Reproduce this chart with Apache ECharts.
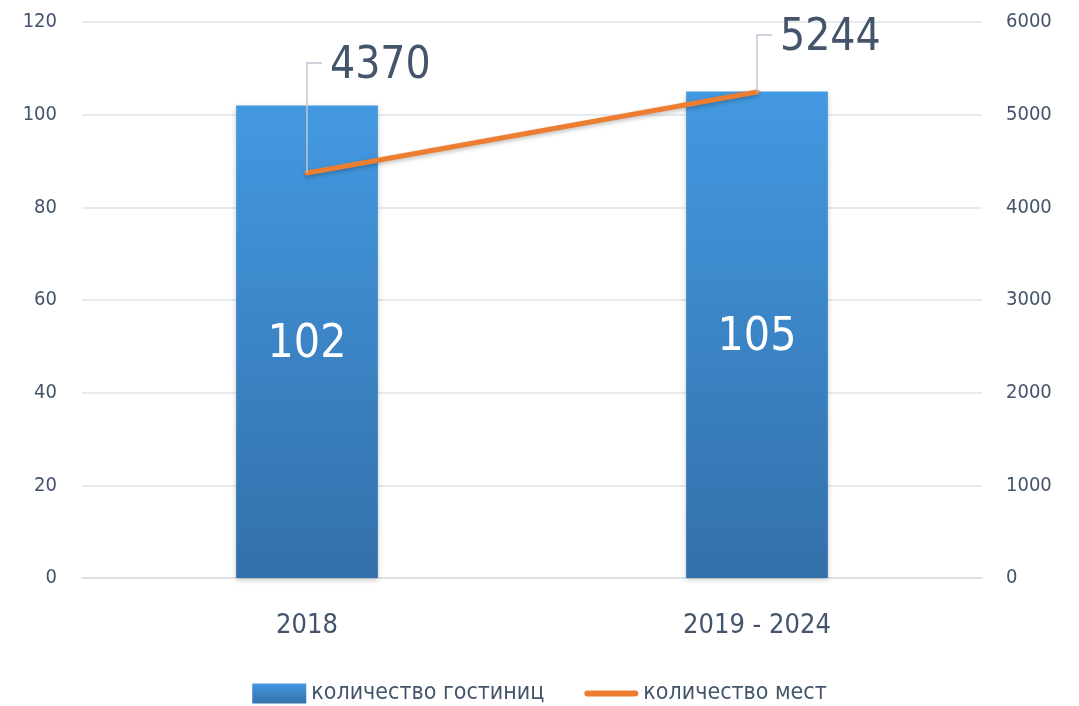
<!DOCTYPE html>
<html>
<head>
<meta charset="utf-8">
<style>
  html, body { margin: 0; padding: 0; background: #ffffff; }
  #chart { width: 1079px; height: 706px; }
</style>
<script src="https://cdn.jsdelivr.net/npm/echarts@6/dist/echarts.min.js"></script>
</head>
<body>
<div id="chart"></div>
<script>
// Hotels and hotel beds
const categories = ['2018', '2019 - 2024'];
const hotelCounts = [102, 105];
const bedCounts = [4370, 5244];
const leftTicks = { min: 0, max: 120, interval: 20 };
const rightTicks = { min: 0, max: 6000, interval: 1000 };
const seriesNames = ['количество гостиниц', 'количество мест'];

// callout geometry for the bed-count labels (rise above the point, horizontal run)
const callouts = [
  { rise: 110, run: 15 },
  { rise: 57, run: 15 }
];

const FONT = '"DejaVu Sans Condensed", "Liberation Sans Narrow", "DejaVu Sans", sans-serif';
const TEXT = '#44546a';

const chart = echarts.init(document.getElementById('chart'));

chart.setOption({
  animation: false,
  backgroundColor: '#ffffff',
  textStyle: { fontFamily: FONT },
  grid: { left: 82, right: 97, top: 22, bottom: 128 },
  legend: {
    top: 677,
    left: 'center',
    itemWidth: 54,
    itemHeight: 20,
    itemGap: 40,
    textStyle: { fontFamily: FONT, fontSize: 23, color: TEXT },
    data: [
      { name: seriesNames[0], icon: 'rect' },
      { name: seriesNames[1], icon: 'path://M3,0 H51 A3,3 0 0 1 51,6 H3 A3,3 0 0 1 3,0 Z' }
    ]
  },
  xAxis: {
    type: 'category',
    data: categories,
    axisLine: { lineStyle: { color: '#d9dde3', width: 1.5 } },
    axisTick: { show: false },
    axisLabel: { fontFamily: FONT, fontSize: 27, color: TEXT, margin: 34 }
  },
  yAxis: [
    {
      type: 'value',
      min: leftTicks.min, max: leftTicks.max, interval: leftTicks.interval,
      axisLine: { show: false },
      axisTick: { show: false },
      splitLine: { lineStyle: { color: '#e1e4e9', width: 1.5 } },
      axisLabel: { fontFamily: FONT, fontSize: 20, color: TEXT, margin: 25 }
    },
    {
      type: 'value',
      min: rightTicks.min, max: rightTicks.max, interval: rightTicks.interval,
      axisLine: { show: false },
      axisTick: { show: false },
      splitLine: { show: false },
      axisLabel: {
        fontFamily: FONT, fontSize: 20, color: TEXT, margin: 24,
        formatter: function (v) { return String(v); }
      }
    }
  ],
  series: [
    {
      name: seriesNames[0],
      type: 'bar',
      yAxisIndex: 0,
      data: hotelCounts,
      barWidth: '31.5%',
      itemStyle: {
        color: new echarts.graphic.LinearGradient(0, 0, 0, 1, [
          { offset: 0, color: '#4399e1' },
          { offset: 1, color: '#3370aa' }
        ]),
        shadowColor: 'rgba(0,0,0,0.22)',
        shadowBlur: 5,
        shadowOffsetY: 2
      },
      label: {
        show: true,
        position: 'inside',
        offset: [0, 3],
        fontFamily: FONT,
        fontSize: 46,
        color: '#ffffff'
      }
    },
    {
      name: seriesNames[1],
      type: 'line',
      yAxisIndex: 1,
      data: bedCounts,
      symbol: 'none',
      z: 5,
      lineStyle: {
        color: '#ed7d31',
        width: 5,
        cap: 'round',
        shadowColor: 'rgba(0,0,0,0.25)',
        shadowBlur: 4,
        shadowOffsetY: 2
      },
      itemStyle: { color: '#ed7d31' }
    },
    {
      name: 'callouts',
      type: 'custom',
      yAxisIndex: 1,
      z: 6,
      silent: true,
      data: bedCounts.map((v, i) => [i, v]),
      renderItem: function (params, api) {
        const p = api.coord([api.value(0), api.value(1)]);
        const c = callouts[params.dataIndex];
        const topY = p[1] - c.rise;
        return {
          type: 'group',
          children: [
            {
              type: 'polyline',
              shape: { points: [[p[0], p[1]], [p[0], topY], [p[0] + c.run, topY]] },
              style: { stroke: '#bfc6cf', lineWidth: 1.5, fill: null }
            },
            {
              type: 'text',
              style: {
                x: p[0] + c.run + 8,
                y: topY + 4,
                text: String(api.value(1)),
                fontFamily: FONT,
                fontSize: 44,
                fill: TEXT,
                verticalAlign: 'middle',
                align: 'left'
              }
            }
          ]
        };
      }
    }
  ]
});
</script>
</body>
</html>
